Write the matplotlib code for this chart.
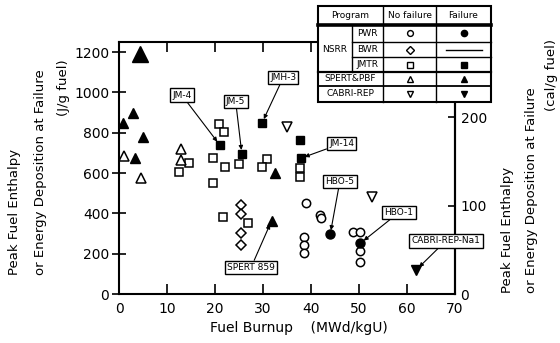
import matplotlib
matplotlib.use("Agg")
import matplotlib.pyplot as plt
from matplotlib.patches import Rectangle

# burnup (MWd/kgU), enthalpy (J/g fuel)
pwr_ok_x = [39.0, 41.9, 42.1, 38.6, 38.6, 38.6, 48.8, 50.2, 50.3, 50.3]
pwr_ok_y = [450, 390, 378, 284, 243, 202, 306, 308, 215, 160]
pwr_fail_x = [44.0, 50.3]
pwr_fail_y = [296, 252]

bwr_ok_x = [25.4, 25.4, 25.4, 25.4]
bwr_ok_y = [441, 396, 301, 243]

jmtr_ok_x = [20.8, 21.9, 19.5, 22.1, 24.9, 14.6, 12.6, 19.6, 21.7, 26.9, 30.8, 29.7, 37.7, 37.7]
jmtr_ok_y = [843, 805, 673, 628, 645, 651, 607, 549, 383, 354, 668, 628, 623, 582]
jmtr_fail_x = [21.0, 25.6, 29.8, 37.7, 37.85]
jmtr_fail_y = [739, 694, 849, 763, 673]

spert_ok_x = [1.1, 12.85, 12.85, 4.5]
spert_ok_y = [686, 717, 664, 574]
spert_fail_x = [2.9, 0.9, 5.0, 3.4, 32.5, 31.8]
spert_fail_y = [896, 849, 778, 676, 598, 364]
spert_big_x = [4.4]
spert_big_y = [1188]

cabri_ok_x = [34.9, 52.8]
cabri_ok_y = [826, 483]
cabri_fail_x = [61.9]
cabri_fail_y = [119]

# label text, labelled point, label centre
labels = [
    ("JM-4", (21.0, 739), (13.1, 986)),
    ("JM-5", (25.6, 694), (24.3, 956)),
    ("JMH-3", (29.8, 849), (34.2, 1073)),
    ("JM-14", (37.85, 673), (46.4, 747)),
    ("HBO-5", (44.0, 296), (46.0, 557)),
    ("HBO-1", (50.3, 252), (58.3, 404)),
    ("CABRI-REP-Na1", (61.9, 119), (68.1, 264)),
    ("SPERT 859", (31.8, 364), (27.5, 131)),
]

W, H = 560, 343
fig = plt.figure(figsize=(W / 100, H / 100), dpi=100)
ax = fig.add_axes([119 / W, (H - 294) / H, (455 - 119) / W, (294 - 42) / H])

opn = dict(ls="none", mfc="white", mec="black", mew=1.1)
fil = dict(ls="none", mfc="black", mec="black", mew=1.0)
ax.plot(pwr_ok_x, pwr_ok_y, "o", ms=6, **opn)
ax.plot(pwr_fail_x, pwr_fail_y, "o", ms=6.5, **fil)
ax.plot(bwr_ok_x, bwr_ok_y, "D", ms=5.5, **opn)
ax.plot(jmtr_ok_x, jmtr_ok_y, "s", ms=5.8, **opn)
ax.plot(jmtr_fail_x, jmtr_fail_y, "s", ms=6.2, **fil)
ax.plot(spert_ok_x, spert_ok_y, "^", ms=7, **opn)
ax.plot(spert_fail_x, spert_fail_y, "^", ms=7.5, **fil)
ax.plot(spert_big_x, spert_big_y, "^", ms=11, **fil)
ax.plot(cabri_ok_x, cabri_ok_y, "v", ms=7, **opn)
ax.plot(cabri_fail_x, cabri_fail_y, "v", ms=7.5, **fil)

for txt, pt, pos in labels:
    ax.annotate(txt, xy=pt, xytext=pos, ha="center", va="center", fontsize=6.5,
                bbox=dict(boxstyle="square,pad=0.25", fc="white", ec="black", lw=1.0),
                arrowprops=dict(arrowstyle="-|>", color="black", lw=0.8,
                                mutation_scale=6, shrinkA=0, shrinkB=3),
                zorder=6)

ax.set_xlim(0, 70)
ax.set_ylim(0, 1250)
ax.set_xticks(range(0, 71, 10))
ax.set_yticks(range(0, 1201, 200))
ax.tick_params(axis="x", direction="in", length=7, width=1.2, top=True, labelsize=10, pad=6)
ax.tick_params(axis="y", direction="inout", length=10, width=1.2, labelsize=10, pad=2)
ax.tick_params(axis="y", right=False)
for s in ax.spines.values():
    s.set_linewidth(1.5)

sec = ax.secondary_yaxis("right", functions=(lambda j: j * 285 / 1250, lambda c: c * 1250 / 285))
sec.set_yticks([0, 100, 200])
sec.tick_params(direction="in", length=5, width=1.2, labelsize=10, pad=4)
sec.spines["right"].set_linewidth(1.5)

fig.text(299 / W, 1 - 328 / H, "Fuel Burnup    (MWd/kgU)", ha="center", va="center", fontsize=10)

lbl1 = "Peak Fuel Enthalpy"
lbl2 = "or Energy Deposition at Failure"
fig.text(15 / W, 1 - 275 / H, lbl1, rotation=90, ha="center", va="bottom", fontsize=9.5)
fig.text(41 / W, 1 - 275 / H, lbl2, rotation=90, ha="center", va="bottom", fontsize=9.5)
fig.text(63 / W, 1 - 88 / H, "(J/g fuel)", rotation=90, ha="center", va="center", fontsize=9.5)
fig.text(508 / W, 1 - 293 / H, lbl1, rotation=90, ha="center", va="bottom", fontsize=9.5)
fig.text(532 / W, 1 - 293 / H, lbl2, rotation=90, ha="center", va="bottom", fontsize=9.5)
fig.text(551 / W, 1 - 75 / H, "(cal/g fuel)", rotation=90, ha="center", va="center", fontsize=9.5)

# legend table drawn in pixel coordinates
tax = fig.add_axes([0, 0, 1, 1], zorder=10)
tax.set_xlim(0, W)
tax.set_ylim(H, 0)
tax.axis("off")
x0, x1, x2, x3, x4 = 318, 352, 383, 436, 491
y0, yh, r1, r2, r3, r4, y5 = 6, 24.5, 41.7, 57.3, 71.7, 86, 102
tax.add_patch(Rectangle((x0, y0), x4 - x0, y5 - y0, fc="white", ec="black", lw=1.5))
k = dict(color="black")
tax.plot([x0, x4], [yh, yh], lw=2.6, **k)
tax.plot([x0, x4], [r3, r3], lw=1.6, **k)
tax.plot([x0, x4], [r4, r4], lw=1.3, **k)
tax.plot([x1, x4], [r1, r1], lw=1.0, **k)
tax.plot([x1, x4], [r2, r2], lw=1.0, **k)
tax.plot([x1, x1], [yh, r3], lw=1.0, **k)
tax.plot([x2, x2], [y0, y5], lw=1.0, **k)
tax.plot([x3, x3], [y0, y5], lw=1.0, **k)

fs = 6.5
cn = (x2 + x3) / 2
cf = (x3 + x4) / 2
rows = [(yh + r1) / 2, (r1 + r2) / 2, (r2 + r3) / 2, (r3 + r4) / 2, (r4 + y5) / 2]
tax.text((x0 + x2) / 2, (y0 + yh) / 2, "Program", ha="center", va="center", fontsize=fs)
tax.text(cn, (y0 + yh) / 2, "No failure", ha="center", va="center", fontsize=fs)
tax.text(cf, (y0 + yh) / 2, "Failure", ha="center", va="center", fontsize=fs)
tax.text((x0 + x1) / 2, rows[1], "NSRR", ha="center", va="center", fontsize=fs)
for r, name in zip(rows[:3], ["PWR", "BWR", "JMTR"]):
    tax.text((x1 + x2) / 2, r, name, ha="center", va="center", fontsize=fs)
tax.text((x0 + x2) / 2, rows[3], "SPERT&PBF", ha="center", va="center", fontsize=fs)
tax.text((x0 + x2) / 2, rows[4], "CABRI-REP", ha="center", va="center", fontsize=fs)

keys_ok = ["o", "D", "s", "^", "v"]
keys_fail = ["o", None, "s", "^", "v"]
for r, m in zip(rows, keys_ok):
    tax.plot([cn], [r], m, ms=4.2, mfc="white", mec="black", mew=1.0)
for r, m in zip(rows, keys_fail):
    if m is None:
        tax.plot([cf - 18, cf + 18], [r, r], lw=1.0, color="black")
    else:
        tax.plot([cf], [r], m, ms=4.5, mfc="black", mec="black")

fig.savefig("out.png", dpi=100)
